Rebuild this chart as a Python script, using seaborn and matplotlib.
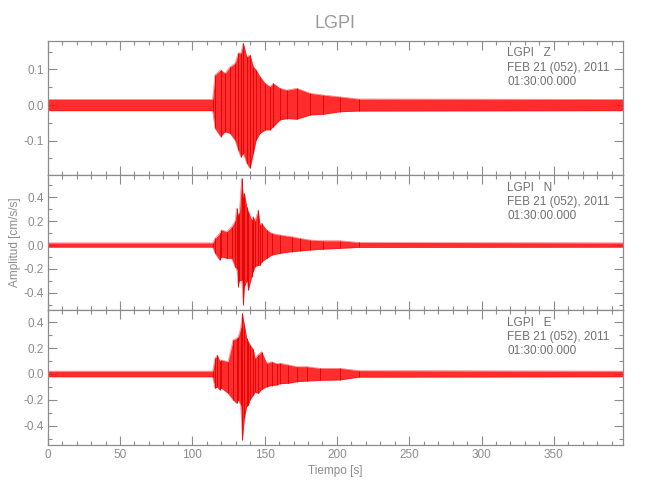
import matplotlib
matplotlib.use("Agg")
import matplotlib.pyplot as plt
import seaborn as sns
import numpy as np
import pandas as pd
from matplotlib.ticker import MultipleLocator, FormatStrFormatter

# ---- data: peak envelope of each component ----
station = "LGPI"
components = ["Z", "N", "E"]
date_text = "FEB 21 (052), 2011"
time_text = "01:30:00.000"

z_time = [0, 114, 115.7, 119.6, 122.6, 126.1, 129.5, 131.8, 133.5, 135.3, 137.6, 139.9,
          142.2, 144.1, 146.8, 150.3, 153.7, 156.0, 160.6, 165.3, 172.2, 181.4, 190.6,
          202.1, 215, 398]
z_upper = [0.016, 0.016, 0.085, 0.099, 0.089, 0.108, 0.117, 0.147, 0.146, 0.174, 0.136, 0.141,
           0.108, 0.099, 0.080, 0.061, 0.052, 0.061, 0.047, 0.042, 0.047, 0.033, 0.028,
           0.023, 0.017, 0.016]
z_lower = [-0.016, -0.016, -0.066, -0.089, -0.075, -0.080, -0.099, -0.127, -0.146, -0.136, -0.164, -0.178,
           -0.136, -0.099, -0.080, -0.070, -0.070, -0.061, -0.042, -0.038, -0.040, -0.028, -0.026,
           -0.019, -0.017, -0.016]

n_time = [0, 114, 115.7, 118.9, 120.1, 123.8, 127.2, 129.5, 130.7, 131.8, 132.5, 134.1, 135.3,
          136.0, 137.6, 138.8, 141.0, 142.2, 143.3, 145.6, 146.8, 147.9, 151.4, 154.8, 160.6,
          168.7, 174.4, 181.4, 190.6, 202.1, 215, 398]
n_upper = [0.018, 0.018, 0.056, 0.098, 0.126, 0.112, 0.154, 0.200, 0.308, 0.250, 0.266, 0.559, 0.400,
           0.434, 0.322, 0.280, 0.210, 0.238, 0.200, 0.294, 0.170, 0.182, 0.126, 0.098, 0.084,
           0.070, 0.056, 0.042, 0.036, 0.036, 0.022, 0.018]
n_lower = [-0.018, -0.018, -0.070, -0.126, -0.100, -0.112, -0.112, -0.182, -0.200, -0.350, -0.300, -0.294, -0.503,
           -0.350, -0.300, -0.378, -0.266, -0.220, -0.182, -0.170, -0.168, -0.140, -0.112, -0.084, -0.070,
           -0.056, -0.050, -0.042, -0.035, -0.028, -0.020, -0.018]

e_time = [0, 114, 115.7, 117.3, 118.9, 120.1, 124.7, 128.2, 130.6, 131.8, 133.4, 134.6, 136.0,
          137.6, 138.8, 139.9, 142.2, 143.3, 145.6, 147.9, 151.4, 154.8, 158.3, 160.6, 166.4,
          172.2, 179.0, 188.2, 202.1, 215, 398]
e_upper = [0.022, 0.022, 0.121, 0.147, 0.100, 0.108, 0.095, 0.263, 0.276, 0.289, 0.354, 0.470, 0.379,
           0.276, 0.250, 0.224, 0.190, 0.121, 0.150, 0.173, 0.083, 0.095, 0.080, 0.083, 0.070,
           0.057, 0.057, 0.044, 0.044, 0.026, 0.022]
e_lower = [-0.022, -0.022, -0.111, -0.100, -0.124, -0.110, -0.150, -0.201, -0.227, -0.200, -0.240, -0.511, -0.343,
           -0.250, -0.240, -0.200, -0.163, -0.140, -0.150, -0.120, -0.098, -0.090, -0.085, -0.075, -0.072,
           -0.060, -0.055, -0.050, -0.046, -0.025, -0.022]

x_limits = (0, 398)
y_limits = [(-0.197, 0.181), (-0.545, 0.587), (-0.55, 0.495)]
y_major = [0.1, 0.2, 0.2]
y_minor = [0.05, 0.1, 0.1]

series = [(z_time, z_upper, z_lower), (n_time, n_upper, n_lower), (e_time, e_upper, e_lower)]

# ---- style ----
sns.set_style("ticks")
plt.rcParams["font.family"] = ["Liberation Sans", "DejaVu Sans"]
gray = "#8c8c8c"
text_gray = "#707070"
plt.rcParams.update({
    "axes.edgecolor": gray, "xtick.color": gray, "ytick.color": gray,
    "xtick.labelcolor": gray, "ytick.labelcolor": gray,
    "axes.linewidth": 0.9,
})

fig = plt.figure(figsize=(6.5, 5), dpi=100)
left, width = 47.7 / 650, (623.3 - 47.7) / 650
tops = [40.7, 175, 310]
bottoms = [175, 310, 445]

for i, (t, up, lo) in enumerate(series):
    ax = fig.add_axes([left, 1 - bottoms[i] / 500, width, (bottoms[i] - tops[i]) / 500])
    df = pd.DataFrame({"t": t, "upper": up, "lower": lo})
    ax.fill_between(df["t"], df["lower"], df["upper"], color="#ff1010", alpha=0.88, lw=0)
    sns.lineplot(data=df, x="t", y="upper", ax=ax, color="#ff0000", lw=0.4, alpha=0.6, estimator=None)
    sns.lineplot(data=df, x="t", y="lower", ax=ax, color="#ff0000", lw=0.4, alpha=0.6, estimator=None)
    ax.vlines(df["t"], df["lower"], df["upper"], color="#e00000", lw=0.6)
    ax.set_xlim(*x_limits)
    ax.set_ylim(*y_limits[i])
    ax.xaxis.set_major_locator(MultipleLocator(50))
    ax.xaxis.set_minor_locator(MultipleLocator(10))
    ax.yaxis.set_major_locator(MultipleLocator(y_major[i]))
    ax.yaxis.set_minor_locator(MultipleLocator(y_minor[i]))
    ax.yaxis.set_major_formatter(FormatStrFormatter("%.1f"))
    ax.tick_params(which="both", direction="in", top=True, right=True, labelsize=8.5, pad=3)
    ax.tick_params(which="major", length=6.5, width=0.8)
    ax.tick_params(which="minor", length=3.2, width=0.8)
    ax.set_xlabel("")
    ax.set_ylabel("")
    if i < 2:
        ax.tick_params(labelbottom=False)
    for s in ax.spines.values():
        s.set_visible(True)
    lines = [f"{station}   {components[i]}", date_text, time_text]
    for k, line in enumerate(lines):
        ax.text(0.798, 0.905 - k * 0.106, line, transform=ax.transAxes, ha="left",
                va="center", fontsize=8.5, color=text_gray)

fig.text((47.7 + 623.3) / 2 / 650, 1 - 23 / 500, station, ha="center", va="center",
         fontsize=13, color="#9a9a9a")
fig.text((47.7 + 623.3) / 2 / 650, 1 - 471 / 500, "Tiempo [s]", ha="center", va="center",
         fontsize=8.5, color=gray)
fig.text(15 / 650, 1 - 242.5 / 500, "Amplitud [cm/s/s]", ha="center", va="center",
         rotation=90, fontsize=8.5, color=gray)

fig.savefig("out.png", dpi=100)
